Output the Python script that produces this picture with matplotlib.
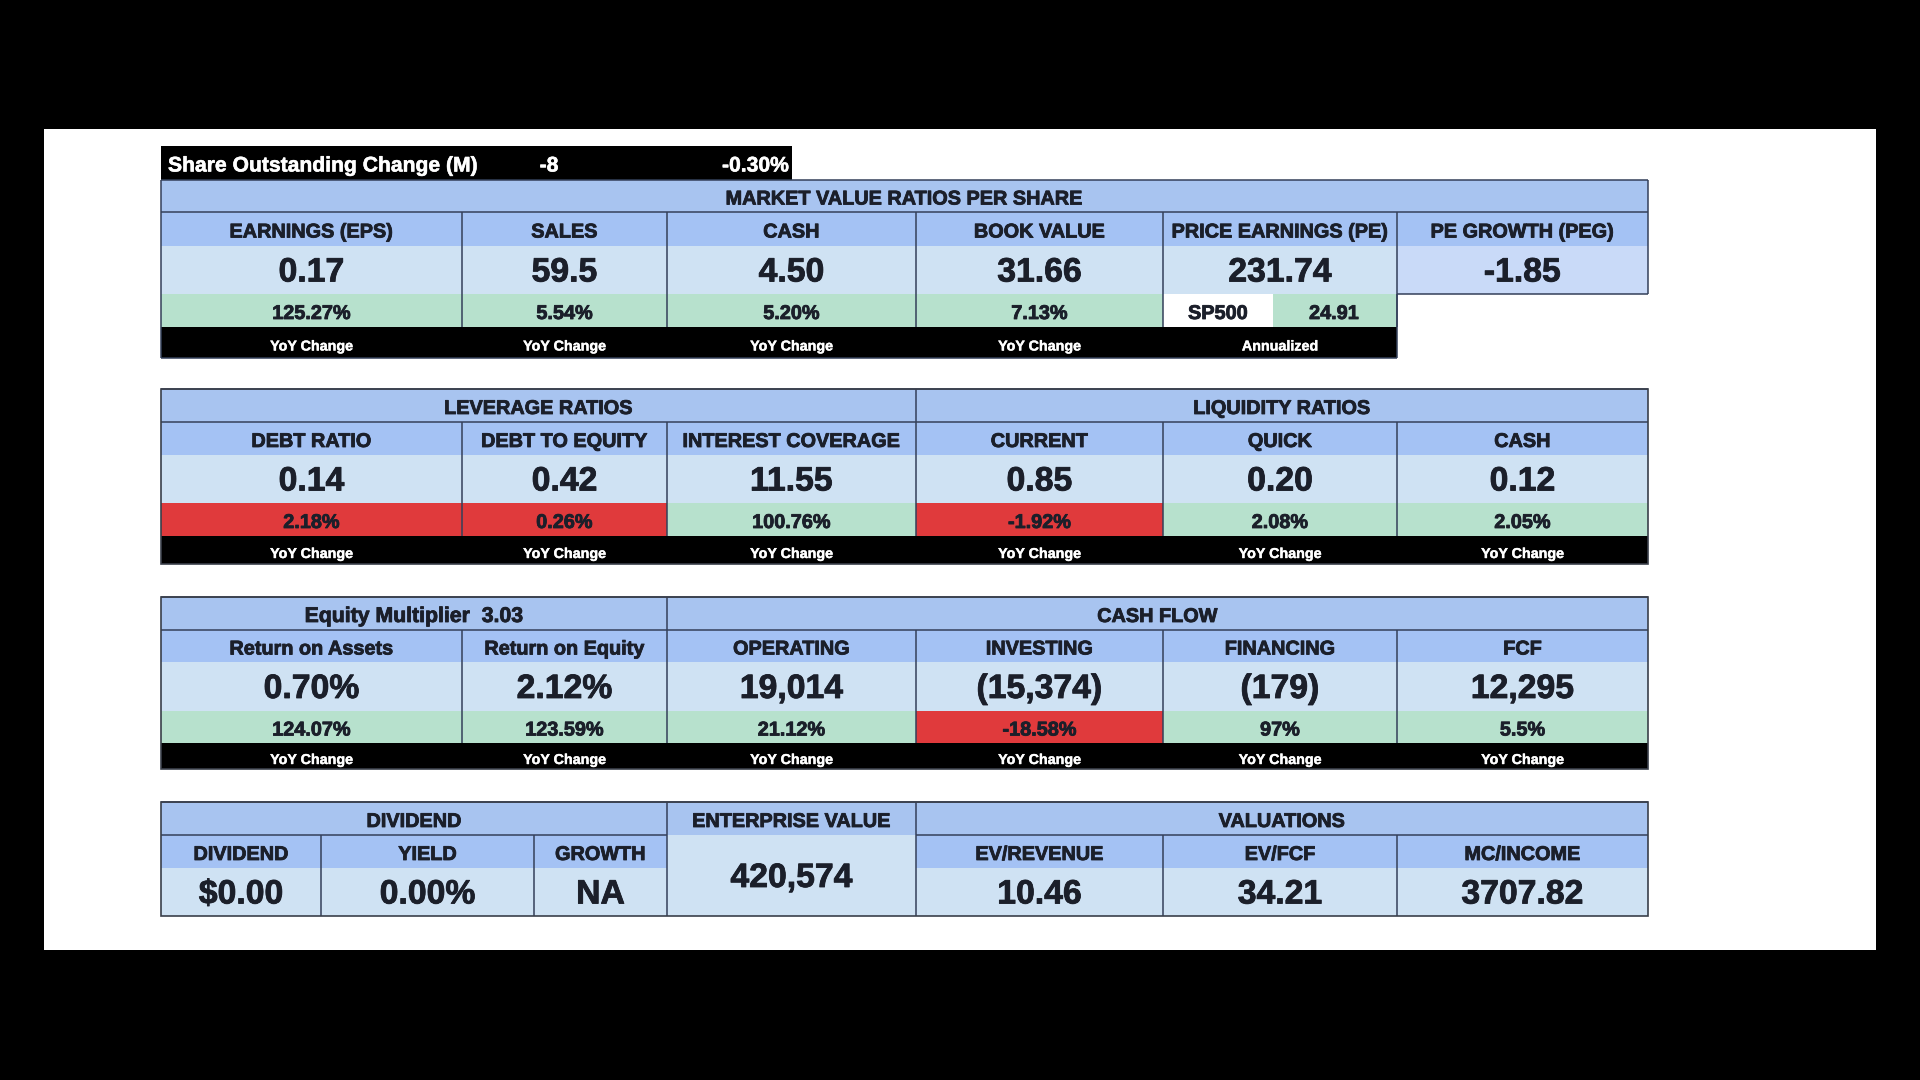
import matplotlib
matplotlib.use("Agg")
import matplotlib.pyplot as plt
from matplotlib.patches import Rectangle
import matplotlib.patheffects as pe

# ---------------- data ----------------
share_change_label = "Share Outstanding Change (M)"
share_change_m = -8
share_change_pct = -0.30

market_title = "MARKET VALUE RATIOS PER SHARE"
market_headers = ["EARNINGS (EPS)", "SALES", "CASH", "BOOK VALUE", "PRICE EARNINGS (PE)", "PE GROWTH (PEG)"]
market_values = ["0.17", "59.5", "4.50", "31.66", "231.74", "-1.85"]
market_yoy = ["125.27%", "5.54%", "5.20%", "7.13%"]
market_yoy_bad = [False, False, False, False]
sp500_label = "SP500"
sp500_pe = "24.91"
annualized_label = "Annualized"

leverage_title = "LEVERAGE RATIOS"
liquidity_title = "LIQUIDITY RATIOS"
ratio_headers = ["DEBT RATIO", "DEBT TO EQUITY", "INTEREST COVERAGE", "CURRENT", "QUICK", "CASH"]
ratio_values = ["0.14", "0.42", "11.55", "0.85", "0.20", "0.12"]
ratio_yoy = ["2.18%", "0.26%", "100.76%", "-1.92%", "2.08%", "2.05%"]
ratio_yoy_bad = [True, True, False, True, False, False]

equity_multiplier = "3.03"
cashflow_title = "CASH FLOW"
flow_headers = ["Return on Assets", "Return on Equity", "OPERATING", "INVESTING", "FINANCING", "FCF"]
flow_values = ["0.70%", "2.12%", "19,014", "(15,374)", "(179)", "12,295"]
flow_yoy = ["124.07%", "123.59%", "21.12%", "-18.58%", "97%", "5.5%"]
flow_yoy_bad = [False, False, False, True, False, False]

dividend_title = "DIVIDEND"
dividend_headers = ["DIVIDEND", "YIELD", "GROWTH"]
dividend_values = ["$0.00", "0.00%", "NA"]
ev_title = "ENTERPRISE VALUE"
ev_value = "420,574"
valuation_title = "VALUATIONS"
valuation_headers = ["EV/REVENUE", "EV/FCF", "MC/INCOME"]
valuation_values = ["10.46", "34.21", "3707.82"]

yoy_label = "YoY Change"

# ---------------- style ----------------
FONT = ["Liberation Sans", "DejaVu Sans"]
TITLE_BLUE = "#a8c4f0"
HEAD_BLUE = "#a4c2f4"
VAL_BLUE = "#cfe2f3"
PEG_BLUE = "#c9daf8"
GREEN = "#b7e1cd"
RED = "#e03a3c"
TXT = "#1b1f2a"
LINE = "#34405a"

fig = plt.figure(figsize=(19.2, 10.8), dpi=100, facecolor="black")
ax = fig.add_axes([0, 0, 1, 1])
ax.set_xlim(0, 1920)
ax.set_ylim(1080, 0)
ax.axis("off")
ax.set_facecolor("black")

ax.add_patch(Rectangle((44, 129), 1832, 821, facecolor="white", edgecolor="none"))

cols = [161, 462, 667, 916, 1163, 1397, 1648]
DY = 3


def rect(x0, x1, y0, y1, fc):
    ax.add_patch(Rectangle((x0, y0), x1 - x0, y1 - y0, facecolor=fc, edgecolor="none", zorder=1))


def txt(x, y, s, size, color=TXT, ha="center", weight="bold", stroke=0.6, dy=DY):
    t = ax.text(x, y + dy, s, fontsize=size, color=color, ha=ha, va="center", fontweight=weight,
                family=FONT, zorder=5)
    if stroke:
        t.set_path_effects([pe.withStroke(linewidth=stroke, foreground=color)])


def hline(x0, x1, y, lw=1.1, color=LINE):
    ax.plot([x0, x1], [y, y], color=color, lw=lw, zorder=4, solid_capstyle="butt")


def vline(x, y0, y1, lw=1.1, color=LINE):
    ax.plot([x, x], [y0, y1], color=color, lw=lw, zorder=4, solid_capstyle="butt")


def box(x0, x1, y0, y1, lw=1.2, color="#3a3f4a"):
    ax.add_patch(Rectangle((x0, y0), x1 - x0, y1 - y0, facecolor="none", edgecolor=color,
                           lw=lw, zorder=4))


H_SIZE = 14.3
V_SIZE = 24.3
P_SIZE = 14.3
Y_SIZE = 10.3


def yoy(x, y, s):
    txt(x, y, s, Y_SIZE, color="white", stroke=0.3, dy=DY + 1)


# ---------------- top black bar ----------------
rect(161, 792, 146, 180, "black")
txt(168, 163, share_change_label, 15.2, color="white", ha="left", stroke=0.4)
txt(549, 163, f"{share_change_m}", 15.2, color="white", stroke=0.4)
txt(789, 163, f"{share_change_pct:.2f}%", 15.2, color="white", ha="right", stroke=0.4)

# ---------------- section 1 ----------------
y = [180, 212, 246, 294, 327, 358]
rect(cols[0], cols[6], y[0], y[1], TITLE_BLUE)
txt((cols[0] + cols[6]) / 2, (y[0] + y[1]) / 2, market_title, H_SIZE)
for i, (h, v) in enumerate(zip(market_headers, market_values)):
    x0, x1 = cols[i], cols[i + 1]
    cx = (x0 + x1) / 2
    rect(x0, x1, y[1], y[2], HEAD_BLUE)
    rect(x0, x1, y[2], y[3], PEG_BLUE if i == 5 else VAL_BLUE)
    txt(cx, (y[1] + y[2]) / 2, h, H_SIZE)
    txt(cx, (y[2] + y[3]) / 2, v, V_SIZE)
for i, p in enumerate(market_yoy):
    x0, x1 = cols[i], cols[i + 1]
    rect(x0, x1, y[3], y[4], RED if market_yoy_bad[i] else GREEN)
    txt((x0 + x1) / 2, (y[3] + y[4]) / 2, p, P_SIZE)
# SP500 row
rect(cols[4], 1273, y[3], y[4], "white")
rect(1273, cols[5], y[3], y[4], GREEN)
txt(1218, (y[3] + y[4]) / 2, sp500_label, P_SIZE)
txt(1334, (y[3] + y[4]) / 2, sp500_pe, P_SIZE)
# black row
rect(cols[0], cols[5], y[4], y[5], "black")
for i in range(4):
    yoy((cols[i] + cols[i + 1]) / 2, (y[4] + y[5]) / 2, yoy_label)
yoy((cols[4] + cols[5]) / 2, (y[4] + y[5]) / 2, annualized_label)
# lines
hline(cols[0], cols[6], y[0])
hline(cols[0], cols[6], y[1])
hline(cols[5], cols[6], y[3])
vline(cols[0], y[0], y[5])
vline(cols[6], y[0], y[3])
for c in cols[1:6]:
    vline(c, y[1], y[4])
vline(cols[5], y[3], y[5])
hline(cols[0], cols[5], y[5])


# ---------------- generic section ----------------
def section(yy, titles, headers, values, yoys, bad):
    for (x0, x1, t, sz) in titles:
        rect(x0, x1, yy[0], yy[1], TITLE_BLUE)
        txt((x0 + x1) / 2, (yy[0] + yy[1]) / 2, t, sz)
    for i, (h, v, p) in enumerate(zip(headers, values, yoys)):
        x0, x1 = cols[i], cols[i + 1]
        cx = (x0 + x1) / 2
        rect(x0, x1, yy[1], yy[2], HEAD_BLUE)
        rect(x0, x1, yy[2], yy[3], VAL_BLUE)
        rect(x0, x1, yy[3], yy[4], RED if bad[i] else GREEN)
        txt(cx, (yy[1] + yy[2]) / 2, h, H_SIZE)
        txt(cx, (yy[2] + yy[3]) / 2, v, V_SIZE)
        txt(cx, (yy[3] + yy[4]) / 2, p, P_SIZE)
    rect(cols[0], cols[6], yy[4], yy[5], "black")
    for i in range(6):
        yoy((cols[i] + cols[i + 1]) / 2, (yy[4] + yy[5]) / 2, yoy_label)
    hline(cols[0], cols[6], yy[0])
    hline(cols[0], cols[6], yy[1])
    for (x0, x1, t, sz) in titles[1:]:
        vline(x0, yy[0], yy[1])
    for c in cols[1:6]:
        vline(c, yy[1], yy[4])
    box(cols[0], cols[6], yy[0], yy[5])


section([389, 422, 455, 503, 536, 564],
        [(cols[0], cols[3], leverage_title, H_SIZE), (cols[3], cols[6], liquidity_title, H_SIZE)],
        ratio_headers, ratio_values, ratio_yoy, ratio_yoy_bad)

section([597, 630, 662, 711, 743, 769],
        [(cols[0], cols[2], f"Equity Multiplier  {equity_multiplier}", 15.3),
         (cols[2], cols[6], cashflow_title, H_SIZE)],
        flow_headers, flow_values, flow_yoy, flow_yoy_bad)

# ---------------- section 4 ----------------
y4 = [802, 835, 868, 916]
dcols = [161, 321, 534, 667]
rect(dcols[0], dcols[3], y4[0], y4[1], TITLE_BLUE)
txt((dcols[0] + dcols[3]) / 2, (y4[0] + y4[1]) / 2, dividend_title, H_SIZE)
for i, (h, v) in enumerate(zip(dividend_headers, dividend_values)):
    x0, x1 = dcols[i], dcols[i + 1]
    rect(x0, x1, y4[1], y4[2], HEAD_BLUE)
    rect(x0, x1, y4[2], y4[3], VAL_BLUE)
    txt((x0 + x1) / 2, (y4[1] + y4[2]) / 2, h, H_SIZE)
    txt((x0 + x1) / 2, (y4[2] + y4[3]) / 2, v, V_SIZE)
rect(cols[2], cols[3], y4[0], y4[1], TITLE_BLUE)
txt((cols[2] + cols[3]) / 2, (y4[0] + y4[1]) / 2, ev_title, H_SIZE)
rect(cols[2], cols[3], y4[1], y4[3], VAL_BLUE)
txt((cols[2] + cols[3]) / 2, (y4[1] + y4[3]) / 2, ev_value, V_SIZE)
rect(cols[3], cols[6], y4[0], y4[1], TITLE_BLUE)
txt((cols[3] + cols[6]) / 2, (y4[0] + y4[1]) / 2, valuation_title, H_SIZE)
for i, (h, v) in enumerate(zip(valuation_headers, valuation_values)):
    x0, x1 = cols[3 + i], cols[4 + i]
    rect(x0, x1, y4[1], y4[2], HEAD_BLUE)
    rect(x0, x1, y4[2], y4[3], VAL_BLUE)
    txt((x0 + x1) / 2, (y4[1] + y4[2]) / 2, h, H_SIZE)
    txt((x0 + x1) / 2, (y4[2] + y4[3]) / 2, v, V_SIZE)
hline(cols[0], cols[6], y4[0])
hline(cols[0], cols[2], y4[1])
hline(cols[3], cols[6], y4[1])
for c in [cols[2], cols[3]]:
    vline(c, y4[0], y4[3])
for c in dcols[1:3] + cols[4:6]:
    vline(c, y4[1], y4[3])
box(cols[0], cols[6], y4[0], y4[3])

fig.savefig("out.png", dpi=100, facecolor="black")
